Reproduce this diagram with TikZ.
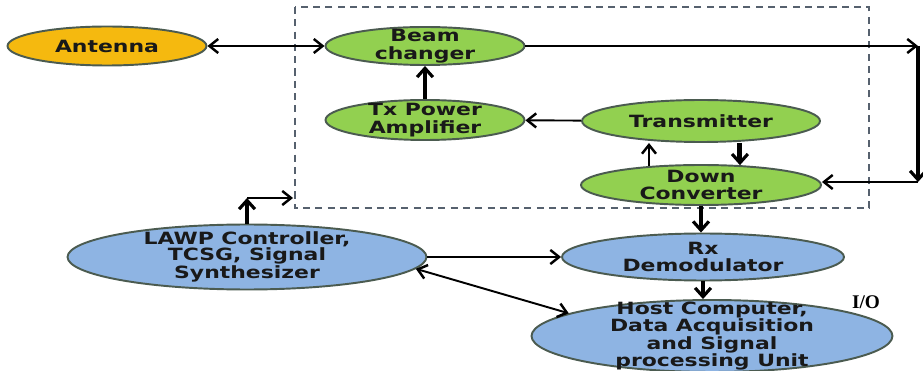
\documentclass[tikz,border=0pt]{standalone}
\usepackage{fontspec}
\usepackage{tikz}
\usetikzlibrary{arrows.meta,shapes.geometric}
\newfontfamily\lblfont{DejaVu Sans}[FakeStretch=1.3]
\newfontfamily\iofont{Liberation Serif}
\definecolor{orangefill}{HTML}{F5B90F}
\definecolor{greenfill}{HTML}{92D050}
\definecolor{bluefill}{HTML}{8EB4E3}
\definecolor{edgegray}{HTML}{4B5B50}
\definecolor{boxgray}{HTML}{56616E}

\begin{document}
\begin{tikzpicture}[x=0.02cm,y=-0.02cm,
    blob/.style={ellipse,draw=edgegray,line width=1.1pt,inner sep=0pt},
    lbl/.style={align=center,font=\lblfont\bfseries\fontsize{9.6}{10.2}\selectfont,text=black!90},
    thinarr/.style={line width=1.1pt,-{Straight Barb[length=5pt,width=8pt,line width=1.4pt]}},
    twoarr/.style={line width=1.1pt,{Straight Barb[length=5pt,width=8pt,line width=1.4pt]}-{Straight Barb[length=5pt,width=8pt,line width=1.4pt]}},
    thickarr/.style={line width=2.8pt,-{Straight Barb[length=5pt,width=9pt,line width=1.8pt]}}]
        \useasboundingbox (0,0) rectangle (923,371);
        % dashed box
        \draw[boxgray,line width=1.3pt,dash pattern=on 4pt off 3pt] (295,7) rectangle (869,208);
        \node[blob,fill=orangefill,minimum width=3.98cm,minimum height=0.78cm,label={[lbl]center:Antenna}] at (107,46) (ant) {};
        \node[blob,fill=greenfill,minimum width=3.98cm,minimum height=0.76cm,label={[lbl]center:Beam\\changer}] at (425,46) (beam) {};
        \node[blob,fill=greenfill,minimum width=3.98cm,minimum height=0.8cm,label={[lbl]center:Tx Power\\Amplifier}] at (425,120) (amp) {};
        \node[blob,fill=greenfill,minimum width=4.76cm,minimum height=0.84cm,label={[lbl]center:Transmitter}] at (701,121) (tx) {};
        \node[blob,fill=greenfill,minimum width=4.8cm,minimum height=0.8cm,label={[lbl]center:Down\\Converter}] at (701,185) (down) {};
        \node[blob,fill=bluefill,minimum width=7.18cm,minimum height=1.3cm,label={[lbl,font=\lblfont\bfseries\fontsize{9.6}{9}\selectfont]center:LAWP Controller,\\TCSG, Signal\\Synthesizer}] at (247,257) (lawp) {};
        \node[blob,fill=bluefill,minimum width=5.64cm,minimum height=0.94cm,label={[lbl]center:Rx\\Demodulator}] at (703,257) (rx) {};
        \node[blob,fill=bluefill,minimum width=7.22cm,minimum height=1.44cm,label={[lbl,font=\lblfont\bfseries\fontsize{9.6}{9.8}\selectfont]center:Host Computer,\\Data Acquisition\\and Signal\\processing Unit}] at (712,336) (host) {};
        \node[font=\iofont\bfseries\fontsize{11}{12}\selectfont] at (866,302) (io) {I/O};
        \coordinate (r1) at (918,46);
        \coordinate (r2) at (918,182);
        \coordinate (boxin) at (293,198);
        \draw[twoarr] (ant) -- (beam);
        \draw[thinarr] (beam.east) -- (r1);
        \draw[thickarr] (r1) -- (r2);
        \draw[thinarr] (r2) -- (down.east |- r2);
        \draw[thickarr] (amp) -- (beam);
        \draw[thinarr] (tx) -- (amp);
        \draw[thinarr] (down.160) -- (down.160 |- tx.south);
        \draw[thickarr] (down.27 |- tx.south) -- (down.27);
        \draw[thickarr] (down.south) -- (down.south |- rx.north);
        \draw[thickarr] (lawp.north) -- (lawp.north |- boxin);
        \draw[thinarr] (lawp.north |- boxin) -- (boxin);
        \draw[thinarr] (lawp) -- (rx);
        \draw[twoarr] (lawp.-4) -- (host.171);
        \draw[thickarr] (rx.south) -- (rx.south |- host.north);
    \end{tikzpicture}
\end{document}
